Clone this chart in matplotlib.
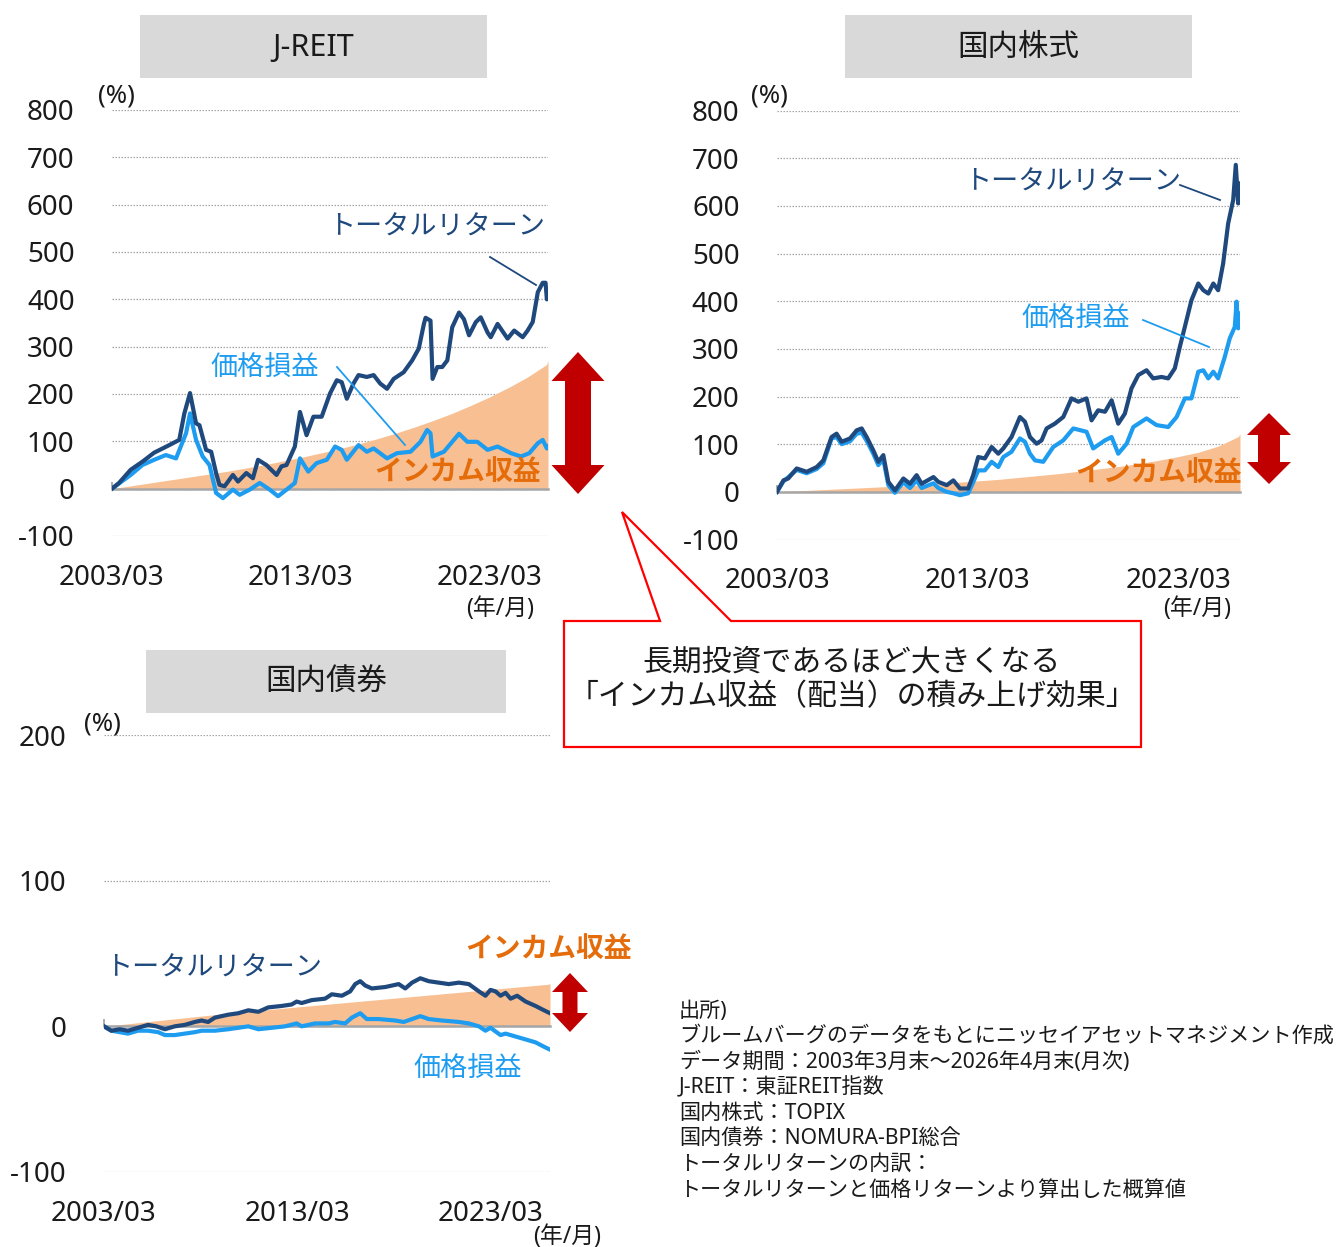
import matplotlib
matplotlib.use("Agg")
import matplotlib.pyplot as plt
from matplotlib.patches import Polygon, Rectangle
from matplotlib.lines import Line2D

plt.rcParams['font.family'] = ['Noto Sans', 'Noto Sans CJK JP']

# ---------------- data ----------------
x_ticks = [2003.25, 2013.25, 2023.25]
x_labels = ['2003/03', '2013/03', '2023/03']
x_range = (2003.25, 2026.33)

# J-REIT
reit_total_t = [2003.25, 2003.62, 2004.24, 2004.86, 2005.48, 2006.28, 2006.81, 2007.08, 2007.38, 2007.70,
                2007.88, 2008.23, 2008.50, 2008.76, 2008.94, 2009.21, 2009.65, 2009.92, 2010.36, 2010.71,
                2010.98, 2011.42, 2011.96, 2012.22, 2012.49, 2012.93, 2013.20, 2013.55, 2013.91, 2014.35,
                2014.79, 2015.15, 2015.41, 2015.68, 2016.03, 2016.30, 2016.74, 2017.10, 2017.45, 2017.81,
                2018.16, 2018.69, 2019.14, 2019.49, 2019.76, 2019.85, 2020.11, 2020.22, 2020.47, 2020.73,
                2021.00, 2021.26, 2021.62, 2021.88, 2022.15, 2022.51, 2022.77, 2023.13, 2023.30, 2023.66,
                2024.19, 2024.54, 2024.99, 2025.25, 2025.52, 2025.79, 2026.05, 2026.20, 2026.27, 2026.33]
reit_total_v = [0, 12, 40, 57, 76, 92, 103, 159, 202, 138,
                134, 82, 78, 33, 8, 5, 29, 15, 33, 22,
                61, 50, 29, 47, 50, 89, 162, 113, 152, 152,
                201, 229, 225, 190, 222, 240, 236, 240, 222, 211,
                232, 246, 271, 296, 348, 361, 355, 232, 257, 257,
                271, 341, 372, 358, 324, 352, 362, 330, 320, 348,
                317, 334, 320, 334, 352, 415, 435, 435, 400, 408]
reit_price_t = [2003.25, 2004.24, 2004.86, 2005.48, 2006.10, 2006.64, 2007.17, 2007.38, 2007.70, 2008.05,
                2008.41, 2008.76, 2009.12, 2009.65, 2010.01, 2010.54, 2011.07, 2011.60, 2012.04, 2012.49,
                2012.93, 2013.20, 2013.64, 2014.08, 2014.62, 2015.06, 2015.41, 2015.68, 2016.30, 2016.74,
                2017.10, 2017.81, 2018.34, 2019.05, 2019.58, 2019.93, 2020.11, 2020.22, 2020.82, 2021.26,
                2021.62, 2022.06, 2022.59, 2023.13, 2023.66, 2024.37, 2024.90, 2025.34, 2025.79, 2026.05,
                2026.27, 2026.33]
reit_price_v = [0, 29, 50, 61, 71, 64, 117, 159, 103, 68,
                50, -9, -20, -2, -13, -2, 12, -2, -16, -2,
                12, 64, 36, 54, 61, 89, 82, 61, 92, 78,
                85, 64, 75, 78, 99, 124, 117, 68, 78, 99,
                116, 99, 99, 82, 89, 75, 68, 75, 96, 103,
                85, 89]
reit_income_t = [2003.25, 2004.25, 2005.25, 2006.25, 2007.25, 2008.25, 2009.25, 2010.25, 2011.25, 2012.25,
                 2013.25, 2014.25, 2015.25, 2016.25, 2017.25, 2018.25, 2019.25, 2020.25, 2021.25, 2022.25,
                 2023.25, 2024.25, 2025.25, 2026.25, 2026.33]
reit_income_v = [0, 6, 12, 18, 24, 30, 36, 43, 50, 58,
                 66, 75, 84, 94, 105, 117, 130, 144, 159, 176,
                 194, 214, 236, 262, 271]

# 国内株式 (TOPIX)
stock_total_t = [2003.25, 2003.57, 2003.81, 2004.23, 2004.73, 2005.23, 2005.56, 2005.97, 2006.22, 2006.47,
                 2006.89, 2007.22, 2007.47, 2007.72, 2008.05, 2008.30, 2008.55, 2008.80, 2009.13, 2009.55,
                 2009.88, 2010.21, 2010.46, 2011.05, 2011.29, 2011.71, 2012.04, 2012.37, 2012.78, 2013.03,
                 2013.28, 2013.61, 2013.95, 2014.28, 2014.53, 2014.94, 2015.36, 2015.61, 2015.86, 2016.19,
                 2016.44, 2016.69, 2017.10, 2017.52, 2017.93, 2018.27, 2018.68, 2018.93, 2019.26, 2019.60,
                 2019.93, 2020.26, 2020.59, 2020.92, 2021.26, 2021.67, 2022.00, 2022.42, 2022.75, 2023.08,
                 2023.33, 2023.58, 2023.91, 2024.25, 2024.50, 2024.75, 2025.00, 2025.24, 2025.49, 2025.74,
                 2025.99, 2026.12, 2026.24, 2026.33]
stock_total_v = [0, 24, 28, 49, 42, 52, 66, 115, 122, 105,
                 112, 129, 133, 115, 87, 63, 77, 21, 3, 28,
                 17, 35, 17, 31, 21, 14, 24, 7, 7, 35,
                 73, 70, 94, 80, 91, 115, 157, 147, 115, 101,
                 108, 133, 143, 157, 196, 189, 196, 150, 171, 168,
                 192, 143, 164, 217, 245, 255, 238, 241, 238, 259,
                 304, 346, 402, 437, 423, 416, 437, 423, 479, 563,
                 612, 686, 605, 647]
stock_price_t = [2003.25, 2003.57, 2004.23, 2004.73, 2005.23, 2005.56, 2005.97, 2006.22, 2006.47, 2006.89,
                 2007.22, 2007.47, 2007.72, 2008.05, 2008.30, 2008.55, 2008.80, 2009.13, 2009.55, 2009.88,
                 2010.21, 2010.46, 2011.05, 2011.29, 2011.71, 2012.04, 2012.37, 2012.78, 2013.03, 2013.28,
                 2013.61, 2013.95, 2014.28, 2014.53, 2014.94, 2015.36, 2015.61, 2015.86, 2016.11, 2016.52,
                 2017.02, 2017.52, 2018.02, 2018.68, 2019.01, 2019.60, 2019.93, 2020.26, 2020.68, 2021.01,
                 2021.67, 2022.17, 2022.75, 2023.17, 2023.58, 2023.91, 2024.25, 2024.50, 2024.75, 2025.00,
                 2025.24, 2025.57, 2025.82, 2026.07, 2026.16, 2026.24, 2026.33]
stock_price_v = [0, 22, 46, 39, 48, 60, 112, 115, 100, 106,
                 122, 124, 107, 80, 56, 68, 14, -2, 20, 8,
                 24, 8, 18, 8, 0, -3, -7, -3, 20, 45,
                 45, 63, 52, 73, 84, 112, 105, 80, 66, 63,
                 94, 108, 133, 126, 91, 108, 115, 80, 101, 136,
                 154, 140, 136, 157, 196, 196, 252, 255, 238, 252,
                 238, 283, 322, 346, 399, 343, 374]
stock_income_t = reit_income_t
stock_income_v = [0, 2, 4, 6, 8, 10, 12, 14, 17, 20,
                  23, 26, 30, 34, 38, 43, 48, 53, 59, 66,
                  74, 83, 96, 116, 122]

# 国内債券 (NOMURA-BPI)
bond_total_t = [2003.25, 2003.63, 2004.06, 2004.49, 2005.01, 2005.53, 2005.96, 2006.40, 2006.91, 2007.43,
                2007.95, 2008.30, 2008.64, 2008.99, 2009.68, 2010.20, 2010.72, 2011.24, 2011.75, 2012.45,
                2012.96, 2013.22, 2013.48, 2014.00, 2014.69, 2015.04, 2015.56, 2015.99, 2016.25, 2016.51,
                2016.77, 2017.11, 2017.81, 2018.50, 2018.84, 2019.19, 2019.62, 2020.05, 2020.57, 2021.09,
                2021.61, 2022.13, 2022.65, 2022.99, 2023.25, 2023.51, 2023.77, 2024.03, 2024.29, 2024.63,
                2025.07, 2025.58, 2026.02, 2026.33]
bond_total_v = [0, -3, -2, -3, -1, 1, 0, -2, 0, 1,
                3, 4, 3, 6, 8, 9, 11, 10, 13, 14,
                15, 17, 16, 18, 19, 22, 21, 24, 29, 31,
                28, 26, 27, 29, 26, 30, 33, 31, 30, 29,
                30, 29, 24, 21, 25, 24, 21, 23, 19, 21,
                17, 14, 11, 9]
bond_price_t = [2003.25, 2003.63, 2004.49, 2005.01, 2005.53, 2006.05, 2006.40, 2006.91, 2007.43, 2007.95,
                2008.30, 2008.99, 2009.68, 2010.72, 2011.24, 2011.93, 2012.62, 2013.22, 2013.48, 2014.17,
                2014.87, 2015.21, 2015.73, 2016.08, 2016.51, 2016.85, 2017.46, 2018.32, 2018.76, 2019.19,
                2019.62, 2020.05, 2020.74, 2021.61, 2022.13, 2022.65, 2022.99, 2023.25, 2023.77, 2024.03,
                2024.55, 2025.07, 2025.58, 2026.02, 2026.33]
bond_price_v = [0, -3, -5, -3, -3, -4, -6, -6, -5, -4,
                -3, -3, -2, 0, -2, -1, 0, 2, 0, 2,
                2, 3, 2, 6, 9, 5, 5, 4, 3, 5,
                7, 5, 4, 3, 2, 0, -3, -1, -6, -5,
                -7, -9, -11, -14, -16]
bond_income_t = reit_income_t
bond_income_v = [0, 1.4, 2.8, 4.2, 5.6, 7.0, 8.3, 9.6, 10.9, 12.1,
                 13.3, 14.5, 15.7, 16.9, 18.1, 19.3, 20.5, 21.7, 22.9, 24.1,
                 25.3, 26.5, 27.7, 28.9, 29.5]

reit_yticks = [800, 700, 600, 500, 400, 300, 200, 100, 0, -100]
stock_yticks = reit_yticks
bond_yticks = [200, 100, 0, -100]

titles = ['J-REIT', '国内株式', '国内債券']
lbl_total = 'トータルリターン'
lbl_price = '価格損益'
lbl_income = 'インカム収益'

# ---------------- styles ----------------
DARK = '#1f497d'
LIGHT = '#1e9cf0'
FILL = '#f8c092'
ORANGE = '#e46c0a'
RED = '#c00000'
GRID = '#a6a6a6'
TXT = '#1a1a1a'

W, H = 1344, 1247
fig = plt.figure(figsize=(W / 100, H / 100), dpi=100)


def fx(x):
    return x / W


def fy(y):
    return 1 - y / H


def px_axes(x0, y0, x1, y1):
    return fig.add_axes([fx(x0), fy(y1), (x1 - x0) / W, (y1 - y0) / H])


def draw_panel(ax, tt, vt, tp, vp, ti, vi, yticks):
    ax.set_xlim(*x_range)
    ax.set_ylim(min(yticks), max(yticks))
    ax.fill_between(ti, 0, vi, color=FILL, lw=0, zorder=1)
    ax.plot(tp, vp, color=LIGHT, lw=3.0, zorder=3, solid_joinstyle='round')
    ax.plot(tt, vt, color=DARK, lw=3.0, zorder=4, solid_joinstyle='round')
    for s in ['top', 'right', 'left']:
        ax.spines[s].set_visible(False)
    ax.spines['bottom'].set_position(('data', 0))
    ax.spines['bottom'].set_color(GRID)
    ax.spines['bottom'].set_linewidth(1.8)
    ax.set_yticks(yticks)
    ax.set_yticklabels([str(v) for v in yticks])
    ax.tick_params(axis='y', length=0, pad=27, labelsize=20, labelcolor=TXT)
    ax.set_axisbelow(True)
    ax.grid(axis='y', color=GRID, lw=0.9, linestyle=(0, (1.2, 1.2)))
    ax.set_xticks(x_ticks)
    ax.tick_params(axis='x', direction='in', length=5, width=1.3, color=GRID,
                   labelbottom=False)
    sec = ax.secondary_xaxis('bottom')
    sec.set_xticks(x_ticks, labels=x_labels)
    sec.tick_params(length=0, pad=20, labelsize=20, labelcolor=TXT)
    sec.spines['bottom'].set_visible(False)
    ax.patch.set_alpha(0)


ax1 = px_axes(112, 110, 548, 536)
draw_panel(ax1, reit_total_t, reit_total_v, reit_price_t, reit_price_v,
           reit_income_t, reit_income_v, reit_yticks)
ax2 = px_axes(777, 110.5, 1240, 539.5)
draw_panel(ax2, stock_total_t, stock_total_v, stock_price_t, stock_price_v,
           stock_income_t, stock_income_v, stock_yticks)
ax3 = px_axes(104, 735, 550, 1172)
draw_panel(ax3, bond_total_t, bond_total_v, bond_price_t, bond_price_v,
           bond_income_t, bond_income_v, bond_yticks)


def ftext(x, y, s, **kw):
    fig.text(fx(x), fy(y), s, ha=kw.pop('ha', 'center'), va=kw.pop('va', 'center'), **kw)


# title boxes
for (x0, y0, x1, y1), t in zip([(140, 15, 487, 78), (845, 15, 1192, 78), (146, 650, 506, 713)], titles):
    fig.patches.append(Rectangle((fx(x0), fy(y1)), (x1 - x0) / W, (y1 - y0) / H,
                                 transform=fig.transFigure, facecolor='#d9d9d9', edgecolor='none'))
    ftext((x0 + x1) / 2, (y0 + y1) / 2 + 1, t, fontsize=22, color=TXT)

# (%) and (年/月)
for x, y in [(116, 96), (769, 96), (102, 724)]:
    ftext(x, y, '(%)', fontsize=18.5, color=TXT)
for x, y in [(500, 609), (1197, 609), (567, 1237)]:
    ftext(x, y, '(年/月)', fontsize=16.5, color=TXT)

# series labels
ftext(437, 228, lbl_total, fontsize=19.5, color=DARK)
ftext(265, 369, lbl_price, fontsize=19.5, color=LIGHT)
ftext(458, 473, lbl_income, fontsize=20, color=ORANGE, fontweight='bold')
ftext(1073, 183, lbl_total, fontsize=19.5, color=DARK)
ftext(1076, 320, lbl_price, fontsize=19.5, color=LIGHT)
ftext(1159, 474, lbl_income, fontsize=20, color=ORANGE, fontweight='bold')
ftext(214, 969, lbl_total, fontsize=19.5, color=DARK)
ftext(549, 950, lbl_income, fontsize=20, color=ORANGE, fontweight='bold')
ftext(468, 1070, lbl_price, fontsize=19.5, color=LIGHT)

# leader lines
for (x0, y0, x1, y1), c in [((490, 257, 536, 285), DARK), ((337, 367, 405, 445), LIGHT),
                            ((1180, 185, 1220, 200), DARK), ((1143, 320, 1209, 347), LIGHT)]:
    fig.lines.append(Line2D([fx(x0), fx(x1)], [fy(y0), fy(y1)], transform=fig.transFigure,
                            color=c, lw=1.3))


# red double arrows
def double_arrow(cx, ytop, ybot, hw, hl, sw):
    pts = [(cx, ytop), (cx + hw / 2, ytop + hl), (cx + sw / 2, ytop + hl), (cx + sw / 2, ybot - hl),
           (cx + hw / 2, ybot - hl), (cx, ybot), (cx - hw / 2, ybot - hl), (cx - sw / 2, ybot - hl),
           (cx - sw / 2, ytop + hl), (cx - hw / 2, ytop + hl)]
    fig.patches.append(Polygon([(fx(x), fy(y)) for x, y in pts], closed=True,
                               transform=fig.transFigure, facecolor=RED, edgecolor='none'))


double_arrow(578, 352, 494, 53, 29, 26)
double_arrow(1269, 413, 484, 44, 22, 22)
double_arrow(570, 973, 1032, 36, 19, 15)

# callout box
callout = [(564, 621), (660, 621), (622, 512), (731, 621), (1141, 621), (1141, 747), (564, 747)]
fig.patches.append(Polygon([(fx(x), fy(y)) for x, y in callout], closed=True,
                           transform=fig.transFigure, facecolor='white', edgecolor='#ff0000', lw=1.6))
ftext(852, 663, '長期投資であるほど大きくなる', fontsize=21.5, color=TXT)
ftext(852, 698, '「インカム収益（配当）の積み上げ効果」', fontsize=21.5, color=TXT)

# source notes
notes = ['出所)',
         'ブルームバーグのデータをもとにニッセイアセットマネジメント作成',
         'データ期間：2003年3月末～2026年4月末(月次)',
         'J-REIT：東証REIT指数',
         '国内株式：TOPIX',
         '国内債券：NOMURA-BPI総合',
         'トータルリターンの内訳：',
         'トータルリターンと価格リターンより算出した概算値']
for i, s in enumerate(notes):
    ftext(679, 1011 + 25.6 * i, s, fontsize=15.2, color=TXT, ha='left')

fig.savefig('out.png', dpi=100)
